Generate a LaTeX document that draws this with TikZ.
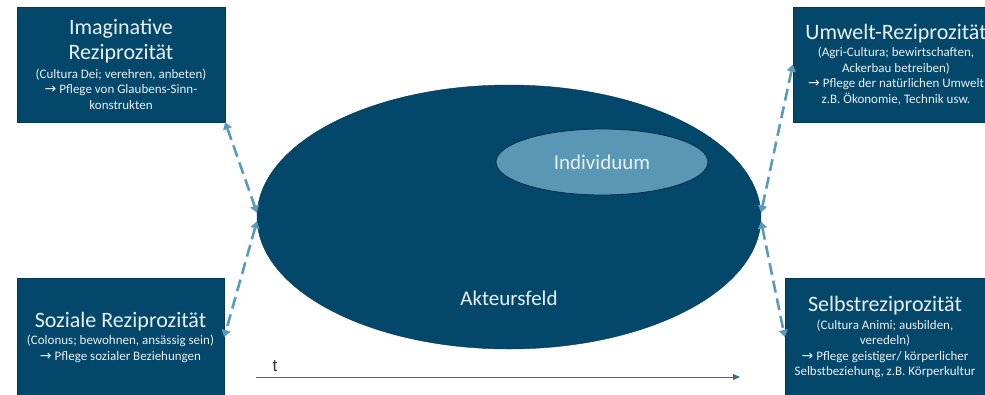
\documentclass[tikz,border=0pt]{standalone}
\usepackage{fontspec}
\setmainfont{Carlito}
\newfontfamily\pfeilfont{DejaVu Sans}
\newfontfamily\achsenfont{Liberation Sans}
\usetikzlibrary{shapes.geometric,arrows.meta}

\definecolor{dunkelblau}{HTML}{03486A}
\definecolor{randblau}{HTML}{023A56}
\definecolor{hellblau}{HTML}{5A97B4}
\definecolor{pfeilblau}{HTML}{5A9BBA}
\definecolor{schrift}{HTML}{E9F0F4}
\definecolor{zeitachse}{HTML}{3D6E8B}

\newcommand{\titel}[1]{{\fontsize{22}{26}\selectfont #1}}
\newcommand{\pfeil}{{\pfeilfont\fontsize{14}{15}\selectfont →}}

\tikzset{
  feldbox/.style={draw=randblau,fill=dunkelblau,text=schrift,align=center,
    inner sep=0pt,font=\fontsize{13}{15.5}\selectfont},
  feld/.style={ellipse,draw=randblau,fill=dunkelblau,inner sep=0pt},
  reziprok/.style={pfeilblau,line width=2.6pt,dash pattern=on 12pt off 6pt,
    {Triangle[width=9pt,length=7pt]}-{Triangle[width=9pt,length=7pt]}},
}

\begin{document}
\begin{tikzpicture}[x=1pt,y=-1pt]
          \clip (0,0) rectangle (985,394);
          %\draw[very thin,lightgray] (0,0) grid[step=50] (985,394);
          \node[feld,minimum width=504,minimum height=264] (akteursfeld) at (509,217) {};
          \node[text=schrift,font=\fontsize{21}{25}\selectfont] (akteur) at (509,298) {Akteursfeld};
          \node[feld,draw=randblau!80!black,line width=0.8pt,fill=hellblau,text=schrift,minimum width=212,
            minimum height=66,font=\fontsize{21}{25}\selectfont] (individuum) at (602,162) {Individuum};
          \node[feldbox,minimum width=208,minimum height=115] (imaginativ) at (121,64.5)
            {\titel{Imaginative}\\[5pt]\titel{Reziprozität}\\[3pt](Cultura Dei; verehren, anbeten)\\
             \pfeil{} Pflege von Glaubens-Sinn-\\konstrukten};
          \node[feldbox,minimum width=206,minimum height=115] (umwelt) at (896,64.5)
            {\titel{Umwelt-Reziprozität}\\[2pt](Agri-Cultura; bewirtschaften,\\Ackerbau betreiben)\\
             \pfeil{} Pflege der natürlichen Umwelt\\z.B. Ökonomie, Technik usw.};
          \node[feldbox,minimum width=207,minimum height=118] (sozial) at (120.5,337)
            {\titel{Soziale Reziprozität}\\[2pt](Colonus; bewohnen, ansässig sein)\\
             \pfeil{} Pflege sozialer Beziehungen};
          \node[feldbox,minimum width=200,minimum height=118] (selbst) at (885,337)
            {\titel{Selbstreziprozität}\\[2pt](Cultura Animi; ausbilden,\\veredeln)\\
             \pfeil{} Pflege geistiger/ körperlicher\\Selbstbeziehung, z.B. Körperkultur};
          \draw[reziprok] (imaginativ.south east) -- (akteursfeld.179);
          \draw[reziprok] (akteursfeld.181) -- (sozial.east);
          \draw[reziprok] (akteursfeld.1) -- (umwelt.west);
          \draw[reziprok] (akteursfeld.-1) -- (selbst.west);
          \coordinate (t0) at (256,377);
          \coordinate (t1) at (740,377);
          \draw[zeitachse,line width=1pt,-{Triangle[width=6pt,length=7pt]}] (t0) -- (t1);
          \node[text=black!80,font=\achsenfont\fontsize{17}{20}\selectfont] (zeit) at (275,366) {t};
        \end{tikzpicture}
\end{document}
